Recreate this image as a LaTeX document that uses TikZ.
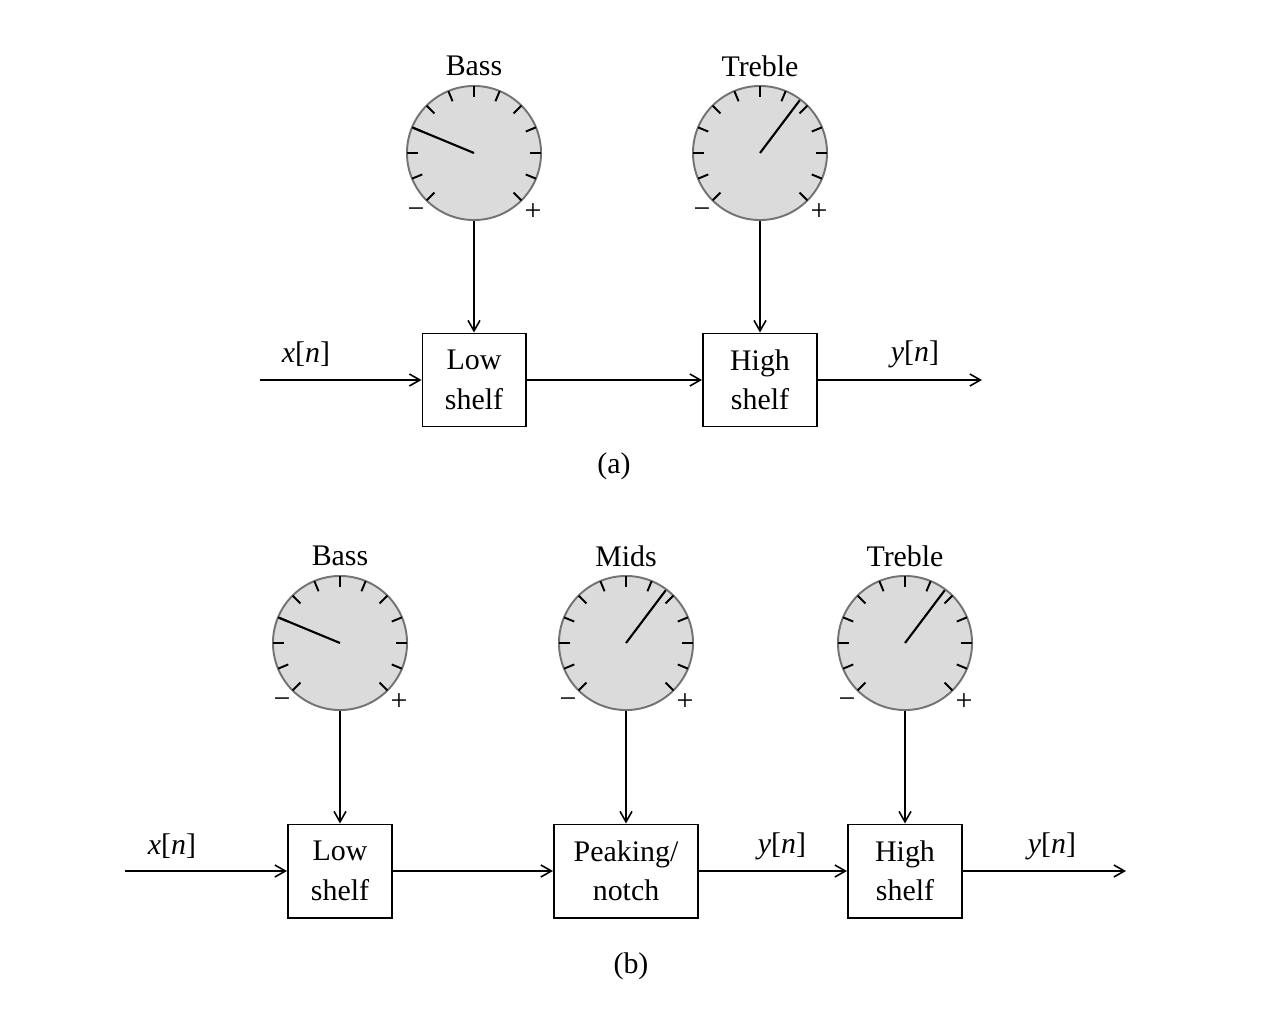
\documentclass[tikz,border=0pt]{standalone}
\usepackage{fontspec}
\setmainfont{Liberation Serif}
\usetikzlibrary{arrows.meta}

\definecolor{knobfill}{gray}{0.86}
\definecolor{knobrim}{gray}{0.45}

\tikzset{
  block/.style={draw, line width=0.55pt, minimum height=0.93cm, align=center, inner sep=0pt},
  knob/.style={circle, draw=knobrim, fill=knobfill, line width=0.55pt, minimum size=1.34cm, inner sep=0pt},
  sig/.style={-{Straight Barb[length=3pt,width=3.4pt]}, line width=0.45pt}
}

% knob: name, centre, needle angle, label
\newcommand{\knob}[4]{
  \node[knob] (#1) at (#2) {};
  \foreach \i in {0,...,12}
    \draw[line width=0.55pt] (#1.center) ++(-45+22.5*\i:56) -- ++(-45+22.5*\i:11);
  \draw[line width=0.6pt] (#1.center) -- ++(#3:66);
  \path (#1.center) ++(0,87) node (#1-name) {#4};
  \path (#1.center) ++(-58,-60) node (#1-min) {−};
  \path (#1.center) ++(59,-59) node (#1-max) {+};
}

\begin{document}
\begin{tikzpicture}[x=0.01cm, y=0.01cm, font=\fontsize{8.5}{11.2}\selectfont]
\useasboundingbox (0,0) rectangle (1264,1008);

% (a) two-band
\knob{bassA}{474,855}{157.5}{Bass}
\knob{trebA}{760,855}{53}{Treble}

\node[block, minimum width=1.03cm] (lowA) at (474,628) {Low\\shelf};
\node[block, minimum width=1.14cm] (highA) at (760,628) {High\\shelf};
\coordinate (inA) at (260,628);
\coordinate (outA) at (982,628);

\draw[sig] (inA) -- (lowA);
\draw[sig] (lowA) -- (highA);
\draw[sig] (highA) -- (outA);
\draw[sig] (bassA.south) -- (lowA.north);
\draw[sig] (trebA.south) -- (highA.north);

\node (xA) at (306,654) {\textit{x}[\textit{n}]};
\node (yA) at (915,654) {\textit{y}[\textit{n}]};
\node (capA) at (614,542) {(a)};

% (b) three-band
\knob{bassB}{340,365}{157.5}{Bass}
\knob{midB}{626,365}{53}{Mids}
\knob{trebB}{905,365}{53}{Treble}

\node[block, minimum width=1.04cm] (lowB) at (340,137) {Low\\shelf};
\node[block, minimum width=1.44cm] (peakB) at (626,137) {Peaking/\\notch};
\node[block, minimum width=1.14cm] (highB) at (905,137) {High\\shelf};
\coordinate (inB) at (125,137);
\coordinate (outB) at (1126,137);

\draw[sig] (inB) -- (lowB);
\draw[sig] (lowB) -- (peakB);
\draw[sig] (peakB) -- (highB);
\draw[sig] (highB) -- (outB);
\draw[sig] (bassB.south) -- (lowB.north);
\draw[sig] (midB.south) -- (peakB.north);
\draw[sig] (trebB.south) -- (highB.north);

\node (xB) at (172,162) {\textit{x}[\textit{n}]};
\node (yB) at (782,162) {\textit{y}[\textit{n}]};
\node (yB2) at (1052,162) {\textit{y}[\textit{n}]};
\node (capB) at (631,42) {(b)};
\end{tikzpicture}
\end{document}
